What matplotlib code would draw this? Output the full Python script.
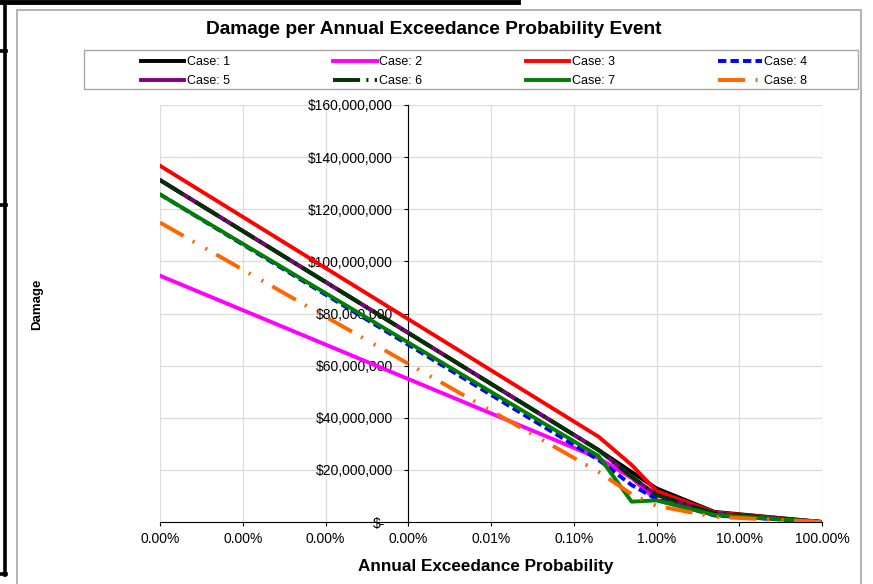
import matplotlib
matplotlib.use('Agg')
import matplotlib.pyplot as plt
from matplotlib.lines import Line2D
from matplotlib.patches import Rectangle
from matplotlib.ticker import FixedLocator, FuncFormatter, NullLocator

plt.rcParams['font.family'] = ['Liberation Sans', 'DejaVu Sans']
plt.rcParams['lines.scale_dashes'] = False

# Annual exceedance probability points
aep = [1e-8, 0.002, 0.005, 0.01, 0.05, 1.0]

# Damage in $ millions for each case
case1 = [131.2, 27.6, 19.2, 12.9, 3.9, 0.0]
case2 = [94.5, 24.5, 16.9, 8.4, 2.7, 0.0]
case3 = [136.7, 32.7, 21.9, 11.9, 3.7, 0.0]
case4 = [125.7, 23.8, 14.2, 8.8, 2.5, 0.0]
case5 = [131.2, 27.6, 17.4, 10.4, 3.3, 0.0]
case6 = [131.2, 27.6, 17.4, 10.4, 3.3, 0.0]
case7 = [125.7, 25.3, 7.8, 8.3, 2.7, 0.0]
case8 = [114.9, 19.2, 10.7, 6.2, 2.0, 0.0]

labels = ['Case: 1', 'Case: 2', 'Case: 3', 'Case: 4',
          'Case: 5', 'Case: 6', 'Case: 7', 'Case: 8']
series = [case1, case2, case3, case4, case5, case6, case7, case8]
colors = ['#000000', '#FF00FF', '#FF0000', '#0000FF',
          '#800080', '#003300', '#008000', '#FF6600']
dashes = [None, None, None, (6, 3), None, (19.5, 4.5, 1.5, 4.5), None,
          (19.5, 7.5, 1.5, 9, 1.5, 7.5)]

y_ticks = [0, 20, 40, 60, 80, 100, 120, 140, 160]
x_ticks = [1e-8, 1e-7, 1e-6, 1e-5, 1e-4, 1e-3, 1e-2, 1e-1, 1.0]

W, H = 873, 584
fig = plt.figure(figsize=(W / 100, H / 100), dpi=100)

def fx(x):
    return x / W

def fy(y):
    return 1 - y / H

# screenshot frame bits (black cell borders + gray chart border)
fig.add_artist(Line2D([fx(0), fx(518)], [fy(2), fy(2)], color='black', lw=3.5))
fig.add_artist(Line2D([fx(5), fx(5)], [fy(0), fy(575)], color='black', lw=2.6))
for yy in [51, 205, 574]:
    fig.add_artist(Line2D([fx(0), fx(6)], [fy(yy), fy(yy)], color='black', lw=2.6))
fig.add_artist(Rectangle((fx(17), fy(610)), fx(861 - 17), (610 - 10) / H,
                         fill=False, edgecolor='#a6a6a6', lw=1.2,
                         transform=fig.transFigure))

ax = fig.add_axes([fx(160), fy(522), fx(822 - 160), (522 - 105) / H])
ax.set_xscale('log')
ax.set_xlim(1e-8, 1.0)
ax.set_ylim(0, 160)

handles = []
for vals, lab, col, ds in zip(series, labels, colors, dashes):
    if ds is None:
        ln, = ax.plot(aep, vals, color=col, lw=2.8, label=lab, zorder=3)
    else:
        ln, = ax.plot(aep, vals, color=col, lw=2.8, label=lab, zorder=3,
                      dashes=ds)
    handles.append(ln)

ax.set_axisbelow(True)
ax.grid(True, color='#dcdcdc', lw=0.9)
ax.xaxis.set_major_locator(FixedLocator(x_ticks))
ax.xaxis.set_minor_locator(NullLocator())
ax.xaxis.set_major_formatter(FuncFormatter(lambda v, p: f'{v * 100:.2f}%'))
ax.yaxis.set_major_locator(FixedLocator(y_ticks))
ax.yaxis.set_major_formatter(
    FuncFormatter(lambda v, p: '' if v == 0 else f'${v * 1e6:,.0f}'))

for s in ['top', 'right']:
    ax.spines[s].set_visible(False)
ax.spines['left'].set_position(('data', 1e-5))
ax.spines['left'].set_color('black')
ax.spines['bottom'].set_color('black')
ax.tick_params(axis='y', length=3, width=0.8, pad=8, labelsize=10,
               colors='black')
ax.tick_params(axis='x', length=3, width=0.8, pad=4, labelsize=10,
               colors='black')
ax.annotate('$-', xy=(1e-5, 0), xytext=(-16.5, -1.5), textcoords='offset points',
            ha='right', va='center', fontsize=10, zorder=1)

fig.text(fx(434), fy(30), 'Damage per Annual Exceedance Probability Event',
         ha='center', va='center', fontsize=13.8, fontweight='bold')
fig.text(fx(486), fy(566), 'Annual Exceedance Probability',
         ha='center', va='center', fontsize=12.3, fontweight='bold')
fig.text(fx(37.5), fy(304), 'Damage', ha='center', va='center',
         rotation=90, fontsize=9.5, fontweight='bold')

# legend (row-major order)
order = [0, 4, 1, 5, 2, 6, 3, 7]
fig.add_artist(Rectangle((fx(84), fy(89)), fx(858 - 84), (89 - 50) / H,
                         fill=False, edgecolor='#a6a6a6', lw=1.0,
                         transform=fig.transFigure))
fig.legend([handles[i] for i in order], [labels[i] for i in order],
           ncol=4, loc='center', bbox_to_anchor=(fx(474), fy(71.5)),
           frameon=False, fontsize=9, handlelength=3.5, handletextpad=0.2,
           columnspacing=8.25, labelspacing=0.55, borderpad=0)

fig.savefig('out.png', dpi=100)
